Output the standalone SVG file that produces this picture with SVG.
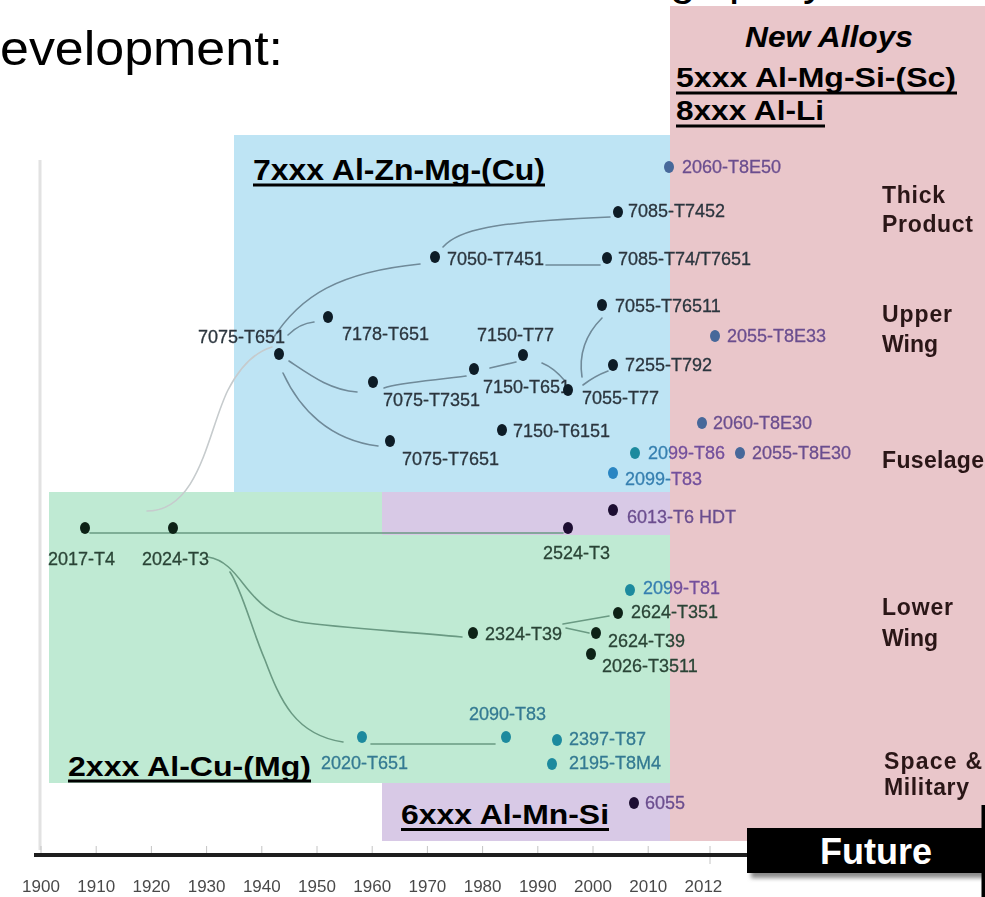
<svg xmlns="http://www.w3.org/2000/svg" width="985" height="897" viewBox="0 0 985 897">
  <defs>
    <style>
      .head { font-family: "Liberation Sans", Arial, sans-serif; fill: #000; }
      .title { font-family: "Liberation Sans", Arial, sans-serif; font-weight: bold; fill: #000; }
      .cat { font-family: "Liberation Sans", Arial, sans-serif; font-weight: bold; font-size: 23px; fill: #2a1618; }
      .lbl { font-family: "Liberation Sans", Arial, sans-serif; font-size: 18px; stroke-width: 0.3; }
      .dk { fill: #2b353e; stroke: #2b353e; }
      .dg { fill: #2a4436; stroke: #2a4436; }
      .li { fill: url(#liSplit); stroke: url(#liSplit); }
      .tl { fill: #347a92; stroke: #347a92; }
      .pu { fill: #6b4e8f; stroke: #6b4e8f; }
      .year { font-family: "Liberation Sans", Arial, sans-serif; font-size: 17px; fill: #4a4a4a; text-anchor: middle; }
      .conn { fill: none; stroke-width: 1.6; stroke-linecap: round; }
      .cb { stroke: #6f8a99; }
      .cg { stroke: #6a9a83; }
      .cw { stroke: #c6cbcd; }
      .d7 { fill: #0e1b26; }
      .d2 { fill: #0c2418; }
      .dp { fill: #1e1030; }
      .ds { fill: #46679a; }
      .dt { fill: #1f8a9e; }
      .dbl { fill: #2a85c2; }
      .ul { fill: #000; }
    </style>
    <linearGradient id="liSplit" gradientUnits="userSpaceOnUse" x1="0" y1="0" x2="985" y2="0">
      <stop offset="0" stop-color="#357fb0"/>
      <stop offset="0.6802" stop-color="#357fb0"/>
      <stop offset="0.6802" stop-color="#734f9c"/>
      <stop offset="1" stop-color="#734f9c"/>
    </linearGradient>
    <filter id="soft" x="-5%" y="-5%" width="110%" height="110%">
      <feGaussianBlur stdDeviation="0.55"/>
    </filter>
    <filter id="shadow" x="-10%" y="-30%" width="130%" height="180%">
      <feGaussianBlur stdDeviation="2"/>
    </filter>
  </defs>

  <rect width="985" height="897" fill="#ffffff"/>

  <!-- heading lines (upper line runs off the top edge) -->
  <text class="head" font-size="46" y="-6"><tspan x="670">g</tspan><tspan x="729">p</tspan><tspan x="803">y</tspan></text>
  <text class="head" x="0" y="65" font-size="48" textLength="283" lengthAdjust="spacingAndGlyphs">evelopment:</text>

  <!-- alloy family bands -->
  <g id="bands">
    <rect id="band-new" x="670" y="6" width="315" height="835" fill="#e9c6ca"/>
    <rect id="band-7xxx" x="234" y="135" width="436" height="357" fill="#bee4f4"/>
    <rect id="band-6xxx" x="382" y="492" width="288" height="349" fill="#d8c9e6"/>
    <rect id="band-2xxx-top" x="49" y="492" width="333" height="44" fill="#bfead3"/>
    <rect id="band-2xxx" x="49" y="535" width="621" height="248" fill="#bfead3"/>
  </g>

  <!-- axes -->
  <g id="axes">
    <line x1="40" y1="160" x2="40" y2="850" stroke="#e2e2e2" stroke-width="3"/>
    <g stroke="#c4c4c4" stroke-width="1">
      <line x1="41" y1="846" x2="41" y2="853"/>
      <line x1="96.2" y1="846" x2="96.2" y2="853"/>
      <line x1="151.4" y1="846" x2="151.4" y2="853"/>
      <line x1="206.6" y1="846" x2="206.6" y2="853"/>
      <line x1="261.8" y1="846" x2="261.8" y2="853"/>
      <line x1="317" y1="846" x2="317" y2="853"/>
      <line x1="372.2" y1="846" x2="372.2" y2="853"/>
      <line x1="427.4" y1="846" x2="427.4" y2="853"/>
      <line x1="482.6" y1="846" x2="482.6" y2="853"/>
      <line x1="537.8" y1="846" x2="537.8" y2="853"/>
      <line x1="593" y1="846" x2="593" y2="853"/>
      <line x1="648.2" y1="846" x2="648.2" y2="853"/>
      <line x1="710" y1="846" x2="710" y2="864"/>
    </g>
    <line x1="34" y1="855" x2="747" y2="855" stroke="#1e1e1e" stroke-width="4"/>
    <g filter="url(#soft)">
      <text class="year" x="41" y="892">1900</text>
      <text class="year" x="96.2" y="892">1910</text>
      <text class="year" x="151.4" y="892">1920</text>
      <text class="year" x="206.6" y="892">1930</text>
      <text class="year" x="261.8" y="892">1940</text>
      <text class="year" x="317" y="892">1950</text>
      <text class="year" x="372.2" y="892">1960</text>
      <text class="year" x="427.4" y="892">1970</text>
      <text class="year" x="482.6" y="892">1980</text>
      <text class="year" x="537.8" y="892">1990</text>
      <text class="year" x="593" y="892">2000</text>
      <text class="year" x="648.2" y="892">2010</text>
      <text class="year" x="703.4" y="892">2012</text>
    </g>
  </g>

  <!-- development paths between tempers -->
  <g id="connectors" filter="url(#soft)">
    <path class="conn cg" d="M90,533 H563"/>
    <path class="conn cw" d="M147,511 C200,511 208,430 228,390 C240,367 255,352 272,347"/>
    <path class="conn cb" d="M272,340 C300,295 340,272 420,264"/>
    <path class="conn cb" d="M443,247 C458,230 490,222 610,217"/>
    <path class="conn cb" d="M546,265 H600"/>
    <path class="conn cb" d="M288,335 C296,327 304,323 314,322"/>
    <path class="conn cb" d="M289,361 C310,375 330,390 357,392"/>
    <path class="conn cb" d="M283,373 C300,410 330,440 378,446"/>
    <path class="conn cb" d="M384,388 C400,382 440,380 466,376"/>
    <path class="conn cb" d="M490,368 L516,362"/>
    <path class="conn cb" d="M542,363 C552,367 560,375 565,381"/>
    <path class="conn cb" d="M583,385 C592,378 600,374 608,371"/>
    <path class="conn cb" d="M582,377 C578,350 588,332 602,318"/>
    <path class="conn cg" d="M208,557 C228,560 238,578 250,592 C262,606 275,617 300,622 C340,628 400,631 462,637"/>
    <path class="conn cg" d="M230,572 C242,590 252,630 265,660 C280,700 295,735 343,742"/>
    <path class="conn cg" d="M371,744 H495"/>
    <path class="conn cg" d="M563,624 L609,616"/>
    <path class="conn cg" d="M566,628 L589,633"/>
  </g>

  <!-- alloy tempers -->
  <g id="nodes" filter="url(#soft)">
    <g id="n-7075-T651"><ellipse class="d7" cx="279" cy="354" rx="5" ry="6"/><text class="lbl dk" x="198" y="343">7075-T651</text></g>
    <g id="n-7178-T651"><ellipse class="d7" cx="328" cy="317" rx="5" ry="6"/><text class="lbl dk" x="342" y="340">7178-T651</text></g>
    <g id="n-7050-T7451"><ellipse class="d7" cx="435" cy="257" rx="5" ry="6"/><text class="lbl dk" x="447" y="265">7050-T7451</text></g>
    <g id="n-7085-T7452"><ellipse class="d7" cx="618" cy="212" rx="5" ry="6"/><text class="lbl dk" x="628" y="217">7085-T7452</text></g>
    <g id="n-7085-T74-T7651"><ellipse class="d7" cx="607" cy="258" rx="5" ry="6"/><text class="lbl dk" x="618" y="265">7085-T74/T7651</text></g>
    <g id="n-2060-T8E50"><ellipse class="ds" cx="669" cy="167" rx="5" ry="6"/><text class="lbl pu" x="682" y="173">2060-T8E50</text></g>
    <g id="n-7055-T76511"><ellipse class="d7" cx="602" cy="305" rx="5" ry="6"/><text class="lbl dk" x="615" y="312">7055-T76511</text></g>
    <g id="n-2055-T8E33"><ellipse class="ds" cx="715" cy="336" rx="5" ry="6"/><text class="lbl pu" x="727" y="342">2055-T8E33</text></g>
    <g id="n-7150-T77"><ellipse class="d7" cx="523" cy="355" rx="5" ry="6"/><text class="lbl dk" x="477" y="341">7150-T77</text></g>
    <g id="n-7150-T651"><ellipse class="d7" cx="474" cy="369" rx="5" ry="6"/><text class="lbl dk" x="483" y="393">7150-T651</text></g>
    <g id="n-7075-T7351"><ellipse class="d7" cx="373" cy="382" rx="5" ry="6"/><text class="lbl dk" x="383" y="406">7075-T7351</text></g>
    <g id="n-7055-T77"><ellipse class="d7" cx="568" cy="390" rx="5" ry="6"/><text class="lbl dk" x="582" y="404">7055-T77</text></g>
    <g id="n-7255-T792"><ellipse class="d7" cx="613" cy="365" rx="5" ry="6"/><text class="lbl dk" x="625" y="371">7255-T792</text></g>
    <g id="n-7150-T6151"><ellipse class="d7" cx="502" cy="430" rx="5" ry="6"/><text class="lbl dk" x="513" y="437">7150-T6151</text></g>
    <g id="n-7075-T7651"><ellipse class="d7" cx="390" cy="441" rx="5" ry="6"/><text class="lbl dk" x="402" y="465">7075-T7651</text></g>
    <g id="n-2060-T8E30"><ellipse class="ds" cx="702" cy="423" rx="5" ry="6"/><text class="lbl pu" x="713" y="429">2060-T8E30</text></g>
    <g id="n-2099-T86"><ellipse class="dt" cx="635" cy="453" rx="5" ry="6"/><text class="lbl li" x="648" y="459">2099-T86</text></g>
    <g id="n-2055-T8E30"><ellipse class="ds" cx="740" cy="453" rx="5" ry="6"/><text class="lbl pu" x="752" y="459">2055-T8E30</text></g>
    <g id="n-2099-T83"><ellipse class="dbl" cx="613" cy="473" rx="5" ry="6"/><text class="lbl li" x="625" y="485">2099-T83</text></g>
    <g id="n-6013-T6HDT"><ellipse class="dp" cx="613" cy="510" rx="5" ry="6"/><text class="lbl pu" x="627" y="523">6013-T6 HDT</text></g>
    <g id="n-2524-T3"><ellipse class="dp" cx="568" cy="528" rx="5" ry="6"/><text class="lbl dg" x="543" y="559">2524-T3</text></g>
    <g id="n-2017-T4"><ellipse class="d2" cx="85" cy="528" rx="5" ry="6"/><text class="lbl dg" x="48" y="565">2017-T4</text></g>
    <g id="n-2024-T3"><ellipse class="d2" cx="173" cy="528" rx="5" ry="6"/><text class="lbl dg" x="142" y="565">2024-T3</text></g>
    <g id="n-2324-T39"><ellipse class="d2" cx="473" cy="633" rx="5" ry="6"/><text class="lbl dg" x="485" y="640">2324-T39</text></g>
    <g id="n-2099-T81"><ellipse class="dt" cx="630" cy="590" rx="5" ry="6"/><text class="lbl li" x="643" y="594">2099-T81</text></g>
    <g id="n-2624-T351"><ellipse class="d2" cx="618" cy="613" rx="5" ry="6"/><text class="lbl dg" x="631" y="618">2624-T351</text></g>
    <g id="n-2624-T39"><ellipse class="d2" cx="596" cy="633" rx="5" ry="6"/><text class="lbl dg" x="608" y="647">2624-T39</text></g>
    <g id="n-2026-T3511"><ellipse class="d2" cx="591" cy="654" rx="5" ry="6"/><text class="lbl dg" x="602" y="672">2026-T3511</text></g>
    <g id="n-2090-T83"><ellipse class="dt" cx="506" cy="737" rx="5" ry="6"/><text class="lbl tl" x="469" y="720">2090-T83</text></g>
    <g id="n-2020-T651"><ellipse class="dt" cx="362" cy="737" rx="5" ry="6"/><text class="lbl tl" x="321" y="769">2020-T651</text></g>
    <g id="n-2397-T87"><ellipse class="dt" cx="557" cy="740" rx="5" ry="6"/><text class="lbl tl" x="569" y="745">2397-T87</text></g>
    <g id="n-2195-T8M4"><ellipse class="dt" cx="552" cy="764" rx="5" ry="6"/><text class="lbl tl" x="569" y="769">2195-T8M4</text></g>
    <g id="n-6055"><ellipse class="dp" cx="634" cy="803" rx="5" ry="6"/><text class="lbl pu" x="645" y="809">6055</text></g>
  </g>

  <!-- application categories -->
  <g id="categories" filter="url(#soft)">
    <text class="cat" x="882" y="203" textLength="63">Thick</text>
    <text class="cat" x="882" y="232" textLength="91">Product</text>
    <text class="cat" x="882" y="322" textLength="70">Upper</text>
    <text class="cat" x="882" y="352" textLength="56">Wing</text>
    <text class="cat" x="882" y="468" textLength="102">Fuselage</text>
    <text class="cat" x="882" y="615" textLength="71">Lower</text>
    <text class="cat" x="882" y="646" textLength="56">Wing</text>
    <text class="cat" x="884" y="769" textLength="98">Space &amp;</text>
    <text class="cat" x="884" y="795" textLength="85">Military</text>
  </g>

  <!-- family titles -->
  <g id="titles">
    <text class="title" x="253" y="180" font-size="30" textLength="292" lengthAdjust="spacingAndGlyphs">7xxx Al-Zn-Mg-(Cu)</text>
    <rect class="ul" x="253" y="183.5" width="292" height="3"/>
    <text class="title" x="68" y="776" font-size="27" textLength="243" lengthAdjust="spacingAndGlyphs">2xxx Al-Cu-(Mg)</text>
    <rect class="ul" x="68" y="779.5" width="243" height="3"/>
    <text class="title" x="401" y="824" font-size="27" textLength="208" lengthAdjust="spacingAndGlyphs">6xxx Al-Mn-Si</text>
    <rect class="ul" x="401" y="828" width="208" height="3"/>
    <text class="title" x="745" y="47" font-size="29" font-style="italic" textLength="168" lengthAdjust="spacingAndGlyphs">New Alloys</text>
    <text class="title" x="676" y="87" font-size="28" textLength="280" lengthAdjust="spacingAndGlyphs">5xxx Al-Mg-Si-(Sc)</text>
    <rect class="ul" x="676" y="91.5" width="281" height="3"/>
    <text class="title" x="676" y="120" font-size="28" textLength="148" lengthAdjust="spacingAndGlyphs">8xxx Al-Li</text>
    <rect class="ul" x="676" y="124.5" width="149" height="3"/>
  </g>

  <!-- future marker -->
  <g id="future">
    <rect x="751" y="833" width="234" height="45" fill="#8a8a8a" filter="url(#shadow)"/>
    <rect x="747" y="828" width="238" height="45" fill="#000"/>
    <rect x="981.5" y="805" width="3.5" height="92" fill="#000"/>
    <text x="876" y="864" font-family="'Liberation Sans', Arial, sans-serif" font-weight="bold" font-size="36" fill="#fff" text-anchor="middle">Future</text>
  </g>
</svg>
